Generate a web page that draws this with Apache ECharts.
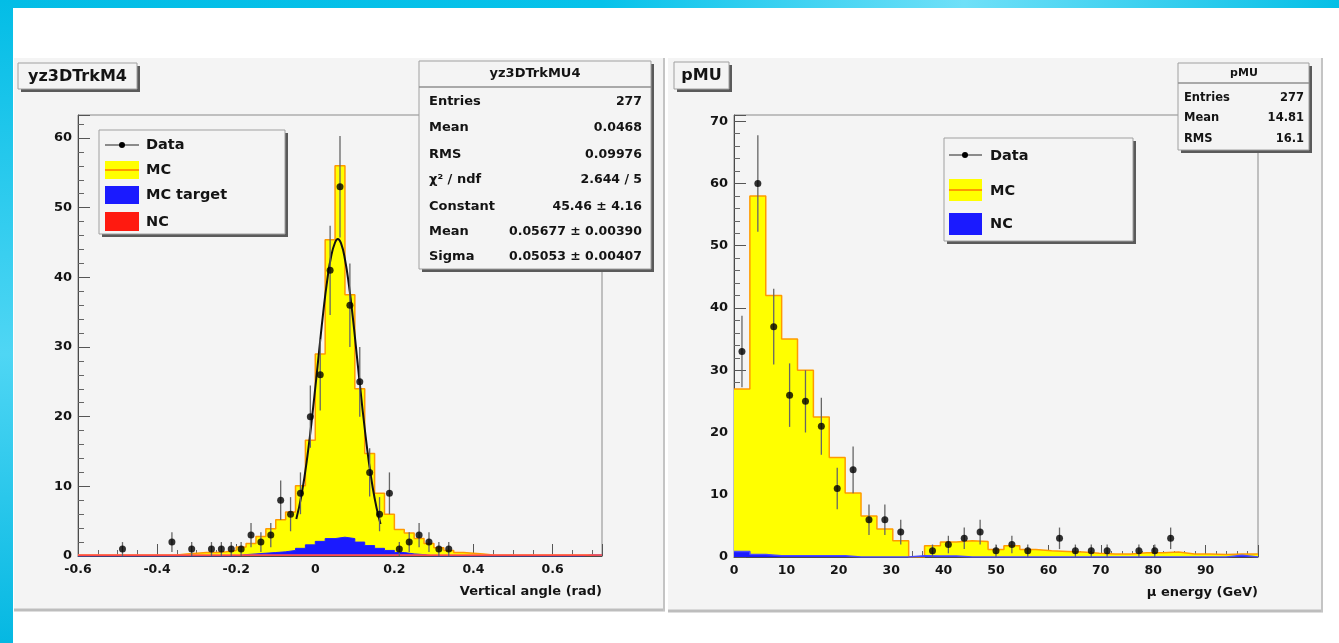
<!DOCTYPE html>
<html>
<head>
<meta charset="utf-8">
<script src="https://cdn.jsdelivr.net/npm/echarts@6/dist/echarts.min.js"></script>
<style>
html,body{margin:0;padding:0;background:#ffffff;}
#chart{width:1339px;height:643px;}
</style>
</head>
<body>
<div id="chart"></div>
<script>
// ================= LEFT PANEL: yz3DTrkM4 (vertical angle) =================
// histogram range, 53 bins of 0.025 rad
const angleRange = [-0.6, 0.725];
// data points (bin centres and counts)
const angleDataX = [-0.4875,-0.3625,-0.3125,-0.2625,-0.2375,-0.2125,-0.1875,-0.1625,-0.1375,-0.1125,-0.0875,-0.0625,-0.0375,-0.0125,0.0125,0.0375,0.0625,0.0875,0.1125,0.1375,0.1625,0.1875,0.2125,0.2375,0.2625,0.2875,0.3125,0.3375];
const angleDataY = [1,2,1,1,1,1,1,3,2,3,8,6,9,20,26,41,53,36,25,12,6,9,1,2,3,2,1,1];
const angleDataErr = [1,1.41,1,1,1,1,1,1.73,1.41,1.73,2.83,2.45,3,4.47,5.1,6.4,7.28,6,5,3.46,2.45,3,1,1.41,1.73,1.41,1,1];
// MC total (yellow), 53 bins
const angleMC = [0.15,0.15,0.15,0.15,0.15,0.15,0.15,0.15,0.15,0.15,0.3,0.4,0.5,
  0.5,0.6,0.8,1.3,1.8,2.8,3.9,5.2,6.3,10.1,16.6,
  29,45.4,56,37.5,24,14.7,9,6,
  3.8,3.3,2.5,1.8,1.2,0.8,0.5,0.4,0.3,
  0.15,0.15,0.15,0.15,0.15,0.15,0.15,0.15,0.15,0.15,0.15,0.15];
// MC target (blue), 53 bins
const angleMCtarget = [0,0,0,0,0,0,0,0,0,0,0,0,0,
  0,0,0,0.2,0.3,0.4,0.5,0.6,0.8,1.1,1.6,
  2.1,2.5,2.7,2.5,2.0,1.5,1.1,0.8,
  0.5,0.3,0.2,0,0,0,0,0,0,
  0,0,0,0,0,0,0,0,0,0,0.15,0.15];
// NC (red), 53 bins
const angleNC = [0.15,0.15,0.15,0.15,0.15,0.15,0.15,0.15,0.15,0.15,0.15,0.15,0.15,
  0.15,0.15,0.15,0.15,0.15,0.15,0.15,0.15,0.15,0.15,0.15,
  0.15,0.15,0.15,0.15,0.15,0.15,0.15,0.15,
  0.15,0.15,0.15,0.15,0.15,0.15,0.15,0.15,0.15,
  0.15,0.15,0.15,0.15,0.15,0.15,0.15,0.15,0.15,0.15,0.15,0.15];
// gaussian fit curve
const fitX = [-0.048,-0.035,-0.02,-0.005,0.01,0.02,0.03,0.04,0.05,0.057,0.065,0.075,0.085,0.095,0.105,0.115,0.125,0.135,0.145,0.155,0.165];
const fitY = [5.3,8.7,14.3,21.5,29.6,34.9,39.5,43.0,45.0,45.5,44.9,42.6,38.9,34.2,28.8,23.4,18.3,13.7,9.9,6.9,4.6];
const angleTicks = ['-0.6','-0.4','-0.2','0','0.2','0.4','0.6'];
const angleStatsLabels = ['Entries','Mean','RMS','χ² / ndf','Constant','Mean','Sigma'];
const angleStatsValues = ['277','0.0468','0.09976','2.644 / 5','45.46 ± 4.16','0.05677 ± 0.00390','0.05053 ± 0.00407'];

// ================= RIGHT PANEL: pMU (muon energy) =================
// histogram range, 33 bins
const energyRange = [0, 100];
const energyDataX = [1.52,4.55,7.58,10.61,13.64,16.67,19.70,22.73,25.76,28.79,31.82,37.88,40.91,43.94,46.97,50.00,53.03,56.06,62.12,65.15,68.18,71.21,77.27,80.30,83.33];
const energyDataY = [33,60,37,26,25,21,11,14,6,6,4,1,2,3,4,1,2,1,3,1,1,1,1,1,3];
const energyDataErr = [5.74,7.75,6.08,5.1,5,4.58,3.32,3.74,2.45,2.45,2,1,1.41,1.73,2,1,1.41,1,1.73,1,1,1,1,1,1.73];
const energyMC = [27,58,42,35,30,22.5,16,10.3,6.6,4.5,2.6,0,1.8,2.4,2.6,2.5,1.2,1.8,1.2,1.0,0.9,0.8,0.6,0.5,0.5,0.7,0.7,0.8,0.5,0.5,0.4,0.5,0.5];
const energyNC = [0.9,0.4,0.2,0.2,0.2,0.2,0.2,0,0,0,0,0.2,0.15,0.15,0,0,0,0,0,0,0,0,0,0,0,0,0,0,0,0,0,0.3,0];
const energyTicks = ['0','10','20','30','40','50','60','70','80','90'];
const energyStatsLabels = ['Entries','Mean','RMS'];
const energyStatsValues = ['277','14.81','16.1'];

// ---------- helpers that build library tables from the arrays ----------
function histSteps(range, vals) {
  const n = vals.length, w = (range[1] - range[0]) / n;
  const pts = vals.map((v, i) => [range[0] + i * w, v]);
  pts.push([range[1], vals[n - 1]]);
  return pts;
}
function zip3(a, b, c) { return a.map((v, i) => [v, b[i], c[i]]); }
function zip2(a, b) { return a.map((v, i) => [v, b[i]]); }

const FONT = '"DejaVu Sans", "Liberation Sans", sans-serif';
const TXT = '#141414';

function errRender(params, api) {
  const x = api.value(0), y = api.value(1), e = api.value(2);
  const p1 = api.coord([x, y - e]);
  const p2 = api.coord([x, y + e]);
  return { type: 'line', shape: { x1: p1[0], y1: p1[1], x2: p2[0], y2: p2[1] },
           style: { stroke: '#666666', lineWidth: 1.3 } };
}

function axisCommon(extra) {
  return Object.assign({
    type: 'value',
    splitLine: { show: false },
    axisLine: { show: true, onZero: false, lineStyle: { color: '#4a4a4a', width: 1 } },
    axisTick: { show: true, inside: true, length: 12, lineStyle: { color: '#555', width: 1 } },
    minorTick: { show: true, splitNumber: 5, length: 6, lineStyle: { color: '#666', width: 1 } },
    axisLabel: { color: TXT, fontFamily: FONT, fontWeight: 'bold', fontSize: 12, showMaxLabel: false }
  }, extra);
}

// ---------- graphic helpers (boxes, legends, stats) ----------
const G = [];
function rect(x, y, w, h, style, z) { G.push({ type: 'rect', z: z === undefined ? 100 : z, shape: { x: x, y: y, width: w, height: h }, style: style }); }
function line(x1, y1, x2, y2, style, z) { G.push({ type: 'line', z: z === undefined ? 101 : z, shape: { x1: x1, y1: y1, x2: x2, y2: y2 }, style: style }); }
function text(t, x, y, size, align, z) {
  G.push({ type: 'text', z: z === undefined ? 102 : z, style: { text: t, x: x, y: y, fill: TXT,
    font: 'bold ' + size + 'px ' + FONT, textAlign: align || 'left', textVerticalAlign: 'middle' } });
}
function box(x, y, w, h, s) {
  rect(x + s, y + s, w, h, { fill: '#5a5a5a' }, 99);
  rect(x, y, w, h, { fill: '#f4f4f4', stroke: '#a0a0a0', lineWidth: 1 }, 100);
}

// cyan screen border
rect(0, 0, 1339, 8, { fill: new echarts.graphic.LinearGradient(0, 0, 1, 0, [
  { offset: 0, color: '#03bde6' }, { offset: 0.45, color: '#06c2ea' }, { offset: 0.72, color: '#6fe0f8' }, { offset: 1, color: '#05bfe6' }]) }, -20);
rect(0, 0, 13, 643, { fill: new echarts.graphic.LinearGradient(0, 0, 0, 1, [
  { offset: 0, color: '#03bde6' }, { offset: 0.55, color: '#4fd6f4' }, { offset: 1, color: '#05b8e2' }]) }, -20);

// pads
rect(14, 58, 651, 553, { fill: '#f4f4f4' }, -15);
line(14, 610, 665, 610, { stroke: '#bdbdbd', lineWidth: 3 }, -14);
line(664, 58, 664, 611, { stroke: '#c4c4c4', lineWidth: 2 }, -14);
rect(668, 58, 655, 554, { fill: '#f4f4f4' }, -15);
line(668, 611, 1323, 611, { stroke: '#bdbdbd', lineWidth: 3 }, -14);
line(1322, 58, 1322, 612, { stroke: '#c4c4c4', lineWidth: 2 }, -14);

// titles
box(18, 63, 119, 26, 3); text('yz3DTrkM4', 77.5, 76.5, 16, 'center');
box(674, 62, 55, 27, 3); text('pMU', 701.5, 75.5, 16, 'center');

// left stats box
box(419, 61, 232, 208, 3);
line(419, 87, 651, 87, { stroke: '#909090', lineWidth: 1.5 });
text('yz3DTrkMU4', 535, 74, 13, 'center');
const angleRowY = [102, 128, 155, 180, 207, 232, 257];
angleStatsLabels.forEach((s, i) => { text(s, 429, angleRowY[i], 13, 'left'); text(angleStatsValues[i], 642, angleRowY[i], 12.5, 'right'); });

// right stats box
box(1178, 63, 131, 87, 3);
line(1178, 83, 1309, 83, { stroke: '#909090', lineWidth: 1.5 });
text('pMU', 1244, 73.5, 11, 'center');
const energyRowY = [98, 118, 139];
energyStatsLabels.forEach((s, i) => { text(s, 1184, energyRowY[i], 11.5, 'left'); text(energyStatsValues[i], 1304, energyRowY[i], 11.5, 'right'); });

// left legend
box(99, 130, 186, 104, 3);
line(105, 145, 139, 145, { stroke: '#222', lineWidth: 1 });
G.push({ type: 'circle', z: 102, shape: { cx: 122, cy: 145, r: 3 }, style: { fill: '#000' } });
text('Data', 146, 145, 14.5);
rect(105, 161, 34, 18, { fill: '#ffff00' }, 101); line(105, 170, 139, 170, { stroke: '#ff9900', lineWidth: 2 }, 102);
text('MC', 146, 170, 14.5);
rect(105, 186, 34, 18, { fill: '#1a1aff' }, 101);
text('MC target', 146, 195, 14.5);
rect(105, 212, 34, 19, { fill: '#ff1a10' }, 101);
text('NC', 146, 222, 14.5);

// right legend
box(944, 138, 189, 103, 3);
line(949, 155, 982, 155, { stroke: '#222', lineWidth: 1 });
G.push({ type: 'circle', z: 102, shape: { cx: 965, cy: 155, r: 3 }, style: { fill: '#000' } });
text('Data', 990, 156, 14.5);
rect(949, 179, 33, 22, { fill: '#ffff00' }, 101); line(949, 190, 982, 190, { stroke: '#ff9900', lineWidth: 2 }, 102);
text('MC', 990, 191, 14.5);
rect(949, 213, 33, 22, { fill: '#1a1aff' }, 101);
text('NC', 990, 224, 14.5);

const chart = echarts.init(document.getElementById('chart'), null, { renderer: 'canvas' });
chart.setOption({
  animation: false,
  backgroundColor: '#ffffff',
  graphic: { elements: G },
  grid: [
    { left: 78, top: 115, width: 524, height: 441, show: true, borderColor: '#8a8a8a', borderWidth: 1, backgroundColor: 'transparent' },
    { left: 734, top: 115, width: 524, height: 442, show: true, borderColor: '#8a8a8a', borderWidth: 1, backgroundColor: 'transparent' }
  ],
  xAxis: [
    axisCommon({ gridIndex: 0, min: angleRange[0], max: angleRange[1], interval: 0.2,
      minorTick: { show: true, splitNumber: 4, length: 6, lineStyle: { color: '#666' } },
      axisLabel: { color: TXT, fontFamily: FONT, fontWeight: 'bold', fontSize: 12.5, margin: 7, showMaxLabel: false,
        formatter: function (v) { const s = angleTicks.find(t => Math.abs(parseFloat(t) - v) < 1e-6); return s === undefined ? '' : s; } },
      name: 'Vertical angle (rad)', nameLocation: 'end', nameGap: 0,
      nameTextStyle: { color: TXT, fontFamily: FONT, fontWeight: 'bold', fontSize: 13, align: 'right', verticalAlign: 'top', padding: [29, 0, 0, 0] } }),
    axisCommon({ gridIndex: 1, min: energyRange[0], max: energyRange[1], interval: 10,
      minorTick: { show: true, splitNumber: 5, length: 6, lineStyle: { color: '#666' } },
      axisLabel: { color: TXT, fontFamily: FONT, fontWeight: 'bold', fontSize: 12.5, margin: 7, showMaxLabel: false,
        formatter: function (v) { const s = energyTicks.find(t => Math.abs(parseFloat(t) - v) < 1e-6); return s === undefined ? '' : s; } },
      name: 'μ energy (GeV)', nameLocation: 'end', nameGap: 0,
      nameTextStyle: { color: TXT, fontFamily: FONT, fontWeight: 'bold', fontSize: 13, align: 'right', verticalAlign: 'top', padding: [29, 0, 0, 0] } })
  ],
  yAxis: [
    axisCommon({ gridIndex: 0, min: 0, max: 63.3, interval: 10,
      axisLabel: { color: TXT, fontFamily: FONT, fontWeight: 'bold', fontSize: 13, margin: 6, showMaxLabel: false } }),
    axisCommon({ gridIndex: 1, min: 0, max: 71, interval: 10,
      axisLabel: { color: TXT, fontFamily: FONT, fontWeight: 'bold', fontSize: 13, margin: 6, showMaxLabel: false } })
  ],
  series: [
    // ----- left -----
    { name: 'MC', type: 'line', xAxisIndex: 0, yAxisIndex: 0, step: 'end', symbol: 'none', z: 2,
      data: histSteps(angleRange, angleMC), lineStyle: { color: '#ff9a00', width: 1.5 }, areaStyle: { color: '#ffff00', opacity: 1 } },
    { name: 'MC target', type: 'line', xAxisIndex: 0, yAxisIndex: 0, step: 'end', symbol: 'none', z: 3,
      data: histSteps(angleRange, angleMCtarget), lineStyle: { color: '#2020ff', width: 1 }, areaStyle: { color: '#1a1aff', opacity: 1 } },
    { name: 'NC', type: 'line', xAxisIndex: 0, yAxisIndex: 0, step: 'end', symbol: 'none', z: 4,
      data: histSteps(angleRange, angleNC), lineStyle: { color: '#ff5a5a', width: 1.5 }, areaStyle: { color: '#ff1a10', opacity: 1 } },
    { name: 'Fit', type: 'line', xAxisIndex: 0, yAxisIndex: 0, smooth: true, symbol: 'none', z: 5,
      data: zip2(fitX, fitY), lineStyle: { color: '#111', width: 2 } },
    { name: 'Data errors', type: 'custom', xAxisIndex: 0, yAxisIndex: 0, z: 6, renderItem: errRender,
      encode: { x: 0, y: 1 }, data: zip3(angleDataX, angleDataY, angleDataErr) },
    { name: 'Data', type: 'scatter', xAxisIndex: 0, yAxisIndex: 0, z: 7, symbol: 'circle', symbolSize: 7,
      itemStyle: { color: '#000' }, data: zip2(angleDataX, angleDataY) },
    // ----- right -----
    { name: 'MC ', type: 'line', xAxisIndex: 1, yAxisIndex: 1, step: 'end', symbol: 'none', z: 2,
      data: histSteps(energyRange, energyMC), lineStyle: { color: '#ff9a00', width: 1.5 }, areaStyle: { color: '#ffff00', opacity: 1 } },
    { name: 'NC ', type: 'line', xAxisIndex: 1, yAxisIndex: 1, step: 'end', symbol: 'none', z: 3,
      data: histSteps(energyRange, energyNC), lineStyle: { color: '#4a4aff', width: 1.5 }, areaStyle: { color: '#1a1aff', opacity: 1 } },
    { name: 'Data errors ', type: 'custom', xAxisIndex: 1, yAxisIndex: 1, z: 6, renderItem: errRender,
      encode: { x: 0, y: 1 }, data: zip3(energyDataX, energyDataY, energyDataErr) },
    { name: 'Data ', type: 'scatter', xAxisIndex: 1, yAxisIndex: 1, z: 7, symbol: 'circle', symbolSize: 7,
      itemStyle: { color: '#000' }, data: zip2(energyDataX, energyDataY) }
  ]
});
</script>
</body>
</html>
